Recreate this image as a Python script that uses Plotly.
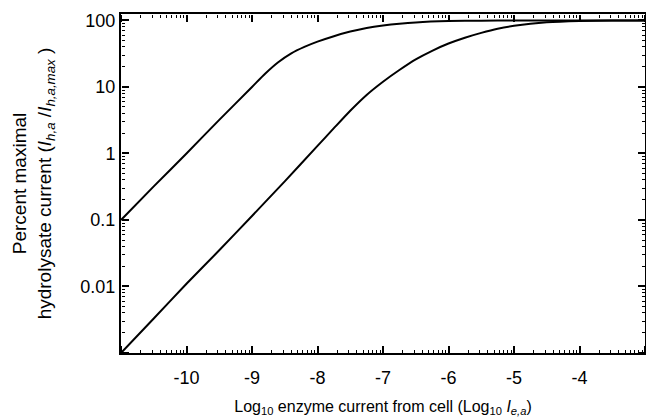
import plotly.graph_objects as go

# log10 of enzyme current from the cell (x) and percent maximal hydrolysate current (y)
upper_log_ie = [-11.0, -10.5, -10.0, -9.5, -9.0, -8.8, -8.6, -8.4, -8.2, -8.0,
                -7.75, -7.5, -7.25, -7.0, -6.75, -6.5, -6.0, -5.5, -5.0, -4.5,
                -4.0, -3.5, -3.0]
upper_pct = [0.1, 0.32, 1.0, 3.2, 10.0, 15.8, 23.5, 32.0, 40.0, 48.0,
             58.0, 68.0, 77.0, 84.0, 89.5, 93.5, 97.8, 99.3, 99.8, 100.0,
             100.0, 100.0, 100.0]

lower_log_ie = [-11.0, -10.5, -10.0, -9.5, -9.0, -8.5, -8.0, -7.75, -7.5, -7.25,
                -7.0, -6.75, -6.5, -6.25, -6.0, -5.75, -5.5, -5.25, -5.0, -4.5,
                -4.0, -3.5, -3.0]
lower_pct = [0.001, 0.0033, 0.011, 0.035, 0.115, 0.38, 1.3, 2.4, 4.4, 7.6,
             12.0, 18.0, 26.0, 35.0, 45.0, 55.0, 65.0, 75.0, 83.0, 94.0,
             98.5, 99.7, 100.0]

x_tick_exponents = [-10, -9, -8, -7, -6, -5, -4]
y_tick_values = [0.01, 0.1, 1, 10, 100]
y_tick_labels = ["0.01", "0.1", "1", "10", "100"]

X_RANGE = [-11, -3]
Y_RANGE = [-3, 2.097]
FONT = "Liberation Sans, Arial, sans-serif"

fig = go.Figure()
for xs, ys in ((upper_log_ie, upper_pct), (lower_log_ie, lower_pct)):
    fig.add_trace(go.Scatter(
        x=[10 ** v for v in xs], y=ys, mode="lines",
        line=dict(color="black", width=2, shape="spline", smoothing=0.6),
        showlegend=False,
    ))

# transparent copies so the tick-only overlay axes get drawn
for xa, ya in (("x2", "y"), ("x3", "y"), ("x", "y2"), ("x", "y3")):
    fig.add_trace(go.Scatter(
        x=[10 ** v for v in upper_log_ie], y=upper_pct, mode="lines",
        xaxis=xa, yaxis=ya, opacity=0, line=dict(color="black", width=1),
        hoverinfo="skip", showlegend=False,
    ))

# main axes: frame lines and tick labels
fig.update_layout(
    xaxis=dict(
        type="log", range=X_RANGE, showline=True, linecolor="black", linewidth=2,
        mirror=True, ticks="", showgrid=False, zeroline=False, automargin=False,
        tickmode="array",
        tickvals=[10 ** e for e in x_tick_exponents],
        ticktext=[str(e) for e in x_tick_exponents],
        tickfont=dict(family=FONT, size=18, color="black"),
        ticklabelstandoff=7,
        title=dict(
            text="Log<sub>10</sub> enzyme current from cell (Log<sub>10</sub> <i>I</i><sub><i>e,a</i></sub>)",
            font=dict(family=FONT, size=16, color="black"), standoff=18,
        ),
    ),
    yaxis=dict(
        type="log", range=Y_RANGE, showline=True, linecolor="black", linewidth=2,
        mirror=True, ticks="", showgrid=False, zeroline=False, automargin=False,
        tickmode="array", tickvals=y_tick_values, ticktext=y_tick_labels,
        tickfont=dict(family=FONT, size=18, color="black"),
        ticklabelstandoff=0,
        title=dict(
            text="Percent maximal<br>hydrolysate current (<i>I</i><sub><i>h,a</i></sub> /<i>I</i><sub><i>h,a,max</i></sub> )",
            font=dict(family=FONT, size=19, color="black"), standoff=24,
        ),
    ),
)

# tick-only axes laid over the frame so every tick points into the plot
tick_style = dict(
    type="log", ticks="outside", ticklen=7, tickwidth=1.5, tickcolor="black",
    dtick=1, showticklabels=False, showline=False, showgrid=False,
    zeroline=False, anchor="free", automargin=False,
    minor=dict(ticks="outside", ticklen=3, tickwidth=1, tickcolor="black", showgrid=False),
)
fig.update_layout(
    xaxis2=dict(**tick_style, range=X_RANGE, overlaying="x", side="top", position=0),
    xaxis3=dict(**tick_style, range=X_RANGE, overlaying="x", side="bottom", position=1),
    yaxis2=dict(**tick_style, range=Y_RANGE, overlaying="y", side="right", position=0),
    yaxis3=dict(**tick_style, range=Y_RANGE, overlaying="y", side="left", position=1),
)

fig.update_layout(
    width=646, height=417,
    margin=dict(l=121, r=1, t=14, b=64),
    paper_bgcolor="white", plot_bgcolor="white",
)

fig.write_html("out.html")
